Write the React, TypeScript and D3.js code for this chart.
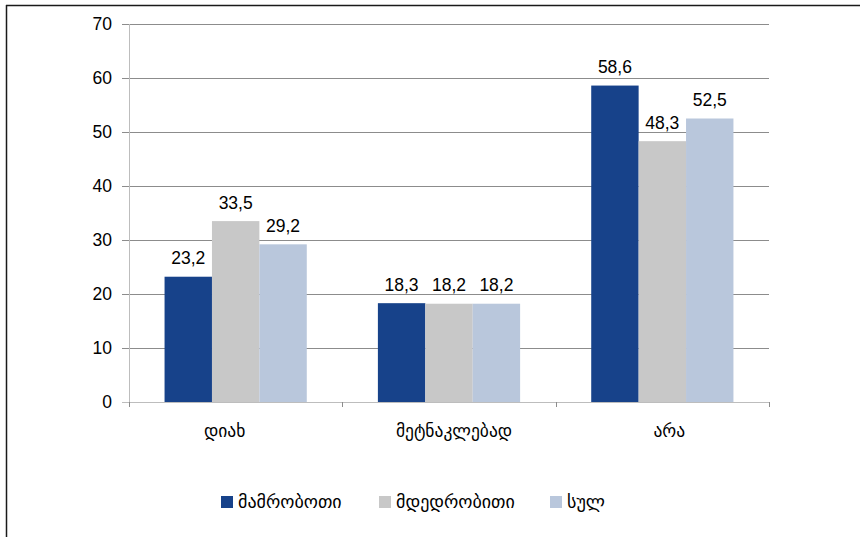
import React, { useRef, useEffect } from 'react';
import * as d3 from 'd3';

const categories = ['დიახ', 'მეტნაკლებად', 'არა'];
const seriesNames = ['მამრობოთი', 'მდედრობითი', 'სულ'];
const male = [23.2, 18.3, 58.6];
const female = [33.5, 18.2, 48.3];
const total = [29.2, 18.2, 52.5];
const yTicks = [0, 10, 20, 30, 40, 50, 60, 70];
const colors = ['#17428A', '#C8C8C8', '#B9C7DC'];

function App(): React.ReactElement {
    const ref = useRef<HTMLDivElement | null>(null);

    useEffect(() => {
        if (!ref.current) return;
        const container = ref.current;
        const width = 860;
        const height = 537;
        const margin = { top: 24, right: 91, bottom: 135, left: 129 };
        const font = "'Liberation Sans', Arial, 'DejaVu Sans', sans-serif";
        const geoFont = "'DejaVu Sans', sans-serif";
        // the source tool doesn't centre the labels exactly
        const labelNudge = [-11, 5, 7];

        d3.select(container).selectAll('*').remove();

        const svg = d3
            .select(container)
            .append('svg')
            .attr('width', width)
            .attr('height', height)
            .style('display', 'block')
            .style('font-family', font);

        svg.append('rect')
            .attr('width', width)
            .attr('height', height)
            .attr('fill', '#fff');

        // outer frame (runs off the right and bottom edges)
        svg.append('line')
            .attr('x1', 6.5).attr('x2', 6.5)
            .attr('y1', 5).attr('y2', height)
            .attr('stroke', '#1a1a1a')
            .attr('stroke-width', 1.5);
        svg.append('line')
            .attr('x1', 6).attr('x2', width)
            .attr('y1', 5.5).attr('y2', 5.5)
            .attr('stroke', '#1a1a1a')
            .attr('stroke-width', 1.5);

        const x0 = d3
            .scaleBand<string>()
            .domain(categories)
            .range([margin.left, width - margin.right])
            .paddingInner(0)
            .paddingOuter(0);

        const x1 = d3
            .scaleBand<string>()
            .domain(seriesNames)
            .range([x0.bandwidth() / 6, x0.bandwidth() * 5 / 6]);

        const y = d3
            .scaleLinear()
            .domain([0, 70])
            .range([height - margin.bottom, margin.top]);

        // gridlines
        svg.append('g')
            .selectAll('line')
            .data(yTicks.filter(t => t > 0))
            .join('line')
            .attr('x1', margin.left - 7)
            .attr('x2', width - margin.right)
            .attr('y1', d => Math.round(y(d)) + 0.5)
            .attr('y2', d => Math.round(y(d)) + 0.5)
            .attr('stroke', '#8C8C8C')
            .attr('stroke-width', 1);

        // y labels
        svg.append('g')
            .selectAll('text')
            .data(yTicks)
            .join('text')
            .attr('x', margin.left - 17)
            .attr('y', d => y(d))
            .attr('dy', '0.35em')
            .attr('text-anchor', 'end')
            .style('font-size', '17.5px')
            .attr('fill', '#000')
            .text(d => d);

        const series = [male, female, total];

        // bars
        series.forEach((vals, si) => {
            svg.append('g')
                .selectAll('rect')
                .data(categories)
                .join('rect')
                .attr('x', c => (x0(c) ?? 0) + (x1(seriesNames[si]) ?? 0))
                .attr('y', (c, i) => y(vals[i]))
                .attr('width', x1.bandwidth())
                .attr('height', (c, i) => y(0) - y(vals[i]))
                .attr('fill', colors[si]);

            svg.append('g')
                .selectAll('text')
                .data(categories)
                .join('text')
                .attr('x', c => (x0(c) ?? 0) + (x1(seriesNames[si]) ?? 0) + x1.bandwidth() / 2)
                .attr('y', (c, i) => y(vals[i]) - 12.5)
                .attr('text-anchor', 'middle')
                .style('font-size', '17.5px')
                .attr('fill', '#000')
                .text((c, i) => String(vals[i]).replace('.', ','));
        });

        // axes
        svg.append('line')
            .attr('x1', margin.left + 0.5)
            .attr('x2', margin.left + 0.5)
            .attr('y1', margin.top)
            .attr('y2', y(0) + 5)
            .attr('stroke', '#BDBDBD');

        svg.append('line')
            .attr('x1', margin.left - 7)
            .attr('x2', width - margin.right)
            .attr('y1', Math.round(y(0)) + 0.5)
            .attr('y2', Math.round(y(0)) + 0.5)
            .attr('stroke', '#BDBDBD');

        const bounds = [...categories.map(c => x0(c) ?? 0), width - margin.right];
        svg.append('g')
            .selectAll('line')
            .data(bounds)
            .join('line')
            .attr('x1', d => Math.round(d) + 0.5)
            .attr('x2', d => Math.round(d) + 0.5)
            .attr('y1', y(0))
            .attr('y2', y(0) + 5)
            .attr('stroke', '#8C8C8C');

        // category labels
        svg.append('g')
            .selectAll('text')
            .data(categories)
            .join('text')
            .attr('x', (c, i) => (x0(c) ?? 0) + x0.bandwidth() / 2 + labelNudge[i])
            .attr('y', y(0) + 35)
            .attr('text-anchor', 'middle')
            .style('font-size', '17.5px')
            .style('font-family', geoFont)
            .attr('fill', '#000')
            .text(c => c);

        // legend
        const legendX = [221, 379, 550];
        const legend = svg.append('g');
        seriesNames.forEach((name, i) => {
            legend.append('rect')
                .attr('x', legendX[i])
                .attr('y', 496)
                .attr('width', 12)
                .attr('height', 12)
                .attr('fill', colors[i]);
            legend.append('text')
                .attr('x', legendX[i] + 17)
                .attr('y', 502)
                .attr('dy', '0.35em')
                .style('font-size', '18px')
                .style('font-family', geoFont)
                .attr('fill', '#000')
                .text(name);
        });
    }, []);

    return <div ref={ref} style={{ position: 'absolute', left: 0, top: 0, width: 860, height: 537 }} />;
}

export default App;
